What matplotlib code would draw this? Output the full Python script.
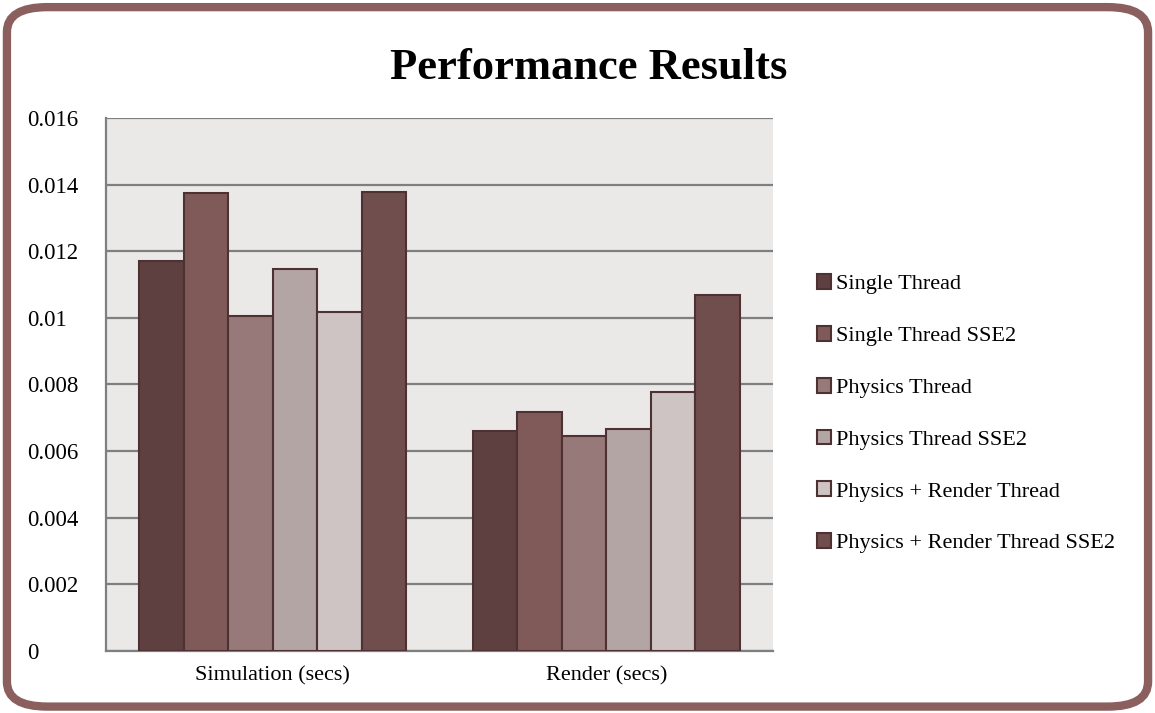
import numpy as np
import matplotlib.pyplot as plt
from matplotlib.patches import FancyBboxPatch

categories = ["Simulation (secs)", "Render (secs)"]
series = ["Single Thread", "Single Thread SSE2", "Physics Thread",
          "Physics Thread SSE2", "Physics + Render Thread",
          "Physics + Render Thread SSE2"]
values = [
    [0.01171, 0.00661],
    [0.01375, 0.00718],
    [0.01006, 0.00646],
    [0.01147, 0.00667],
    [0.01018, 0.00778],
    [0.01378, 0.01069],
]
colors = ["#5e4041", "#7f5a58", "#977979", "#b4a5a5", "#cec4c4", "#6f4e4d"]
yticks = [0, 0.002, 0.004, 0.006, 0.008, 0.01, 0.012, 0.014, 0.016]
ytick_labels = ["0", "0.002", "0.004", "0.006", "0.008", "0.01", "0.012", "0.014", "0.016"]

plt.rcParams["font.family"] = ["Liberation Serif", "DejaVu Serif"]

fig = plt.figure(figsize=(11.55, 7.13), dpi=100)

# rounded frame around the whole chart
frame = FancyBboxPatch((0.006, 0.009), 0.988, 0.981,
                       boxstyle="round,pad=0,rounding_size=0.035",
                       transform=fig.transFigure, facecolor="white",
                       edgecolor="#8b5f5e", linewidth=6, zorder=-10)
fig.patches.append(frame)

ax = fig.add_axes([0.0918, 0.087, 0.5775, 0.7475])
ax.set_facecolor("#ebe9e8")

x = np.arange(len(categories))
width = 0.8 / len(series)
for i, (name, vals) in enumerate(zip(series, values)):
    offset = (i - (len(series) - 1) / 2) * width
    ax.bar(x + offset, vals, width, color=colors[i], edgecolor="#4e3133",
           linewidth=1.5, label=name, zorder=3)

ax.set_xlim(-0.5, 1.5)
ax.set_ylim(0, 0.016)
ax.set_yticks(yticks)
ax.set_yticklabels(ytick_labels, ha="left")
ax.set_xticks(x)
ax.set_xticklabels(categories)
ax.tick_params(axis="y", length=0, labelsize=16.5, pad=57)
ax.tick_params(axis="x", length=0, labelsize=16, pad=11)
ax.yaxis.grid(True, color="#7f7f7f", linewidth=1.6, zorder=0)
ax.set_axisbelow(True)
for side in ["top", "right"]:
    ax.spines[side].set_visible(False)
for side in ["left", "bottom"]:
    ax.spines[side].set_color("#7f7f7f")
    ax.spines[side].set_linewidth(1.6)

fig.text(0.51, 0.905, "Performance Results", ha="center", va="center",
         fontsize=32, fontweight="bold")

leg = ax.legend(loc="center left", bbox_to_anchor=(1.036, 0.445), frameon=False,
                fontsize=16, handlelength=0.65, handleheight=0.65,
                handletextpad=0.2, labelspacing=1.42)
for h in leg.legend_handles:
    h.set_edgecolor("#4e3133")
    h.set_linewidth(1.5)

plt.savefig("out.png", dpi=100)
